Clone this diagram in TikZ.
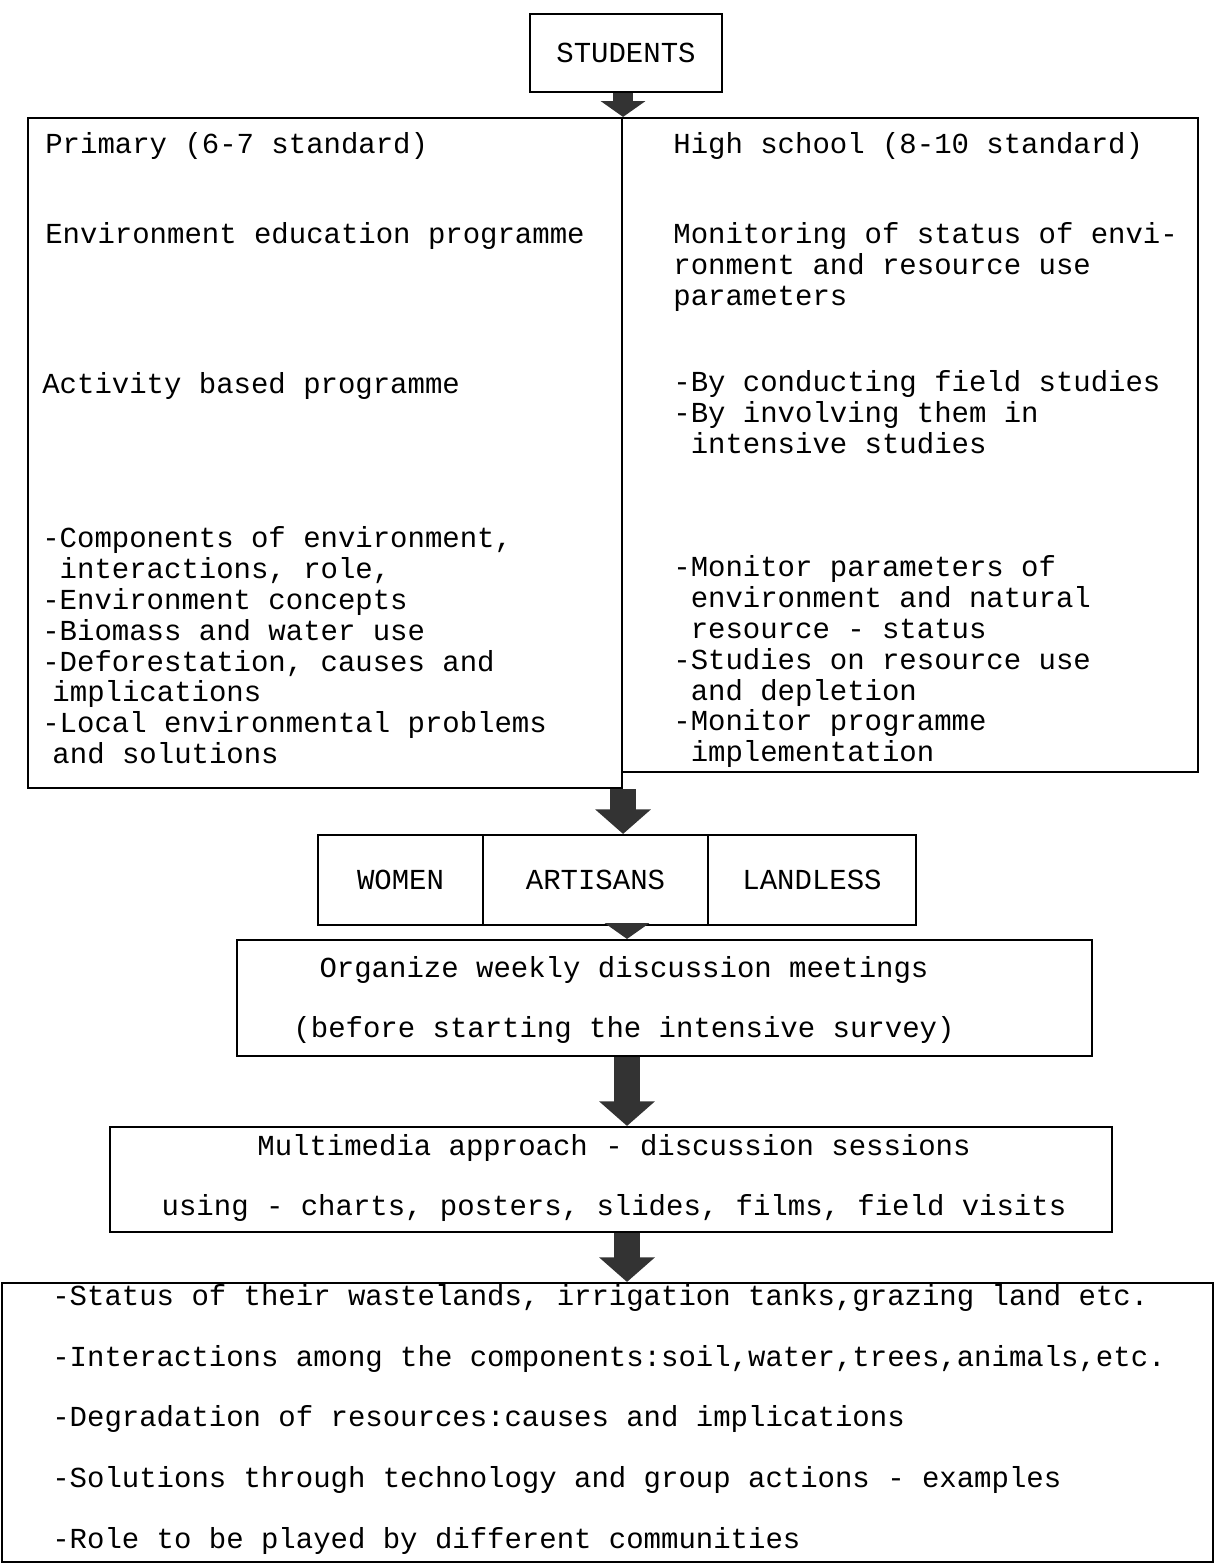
\documentclass[tikz,border=0pt]{standalone}
\usepackage{fontspec}
\setmonofont{Liberation Mono}
\usetikzlibrary{calc,fit,arrows.meta}

\begin{document}
\begin{tikzpicture}[x=0.02cm,y=-0.02cm,
  every node/.style={font=\ttfamily\fontsize{16.5}{17.6}\selectfont},
  object/.style={draw,line width=1.2pt,inner sep=0pt},
  txt/.style={anchor=north west,inner sep=0pt,align=left},
  arrow/.style={draw=black!80,line width=15pt,-{Triangle[width=31pt,length=14pt]}},
  small arrow/.style={draw=black!80,line width=11pt,-{Triangle[width=25pt,length=9pt]}}]
  \useasboundingbox (0,0) rectangle (1215,1567);
  \coordinate (spine) at (627,0);

  \node[object,fit={(530,14) (722,92)},label=center:STUDENTS] (students) {};

  \node[object,fit={(28,118) (622,788)}] (primary) {};
  \node[object,fit={(622,118) (1198,772)}] (high) {};

  % primary column
  \node[txt] (primary title) at (45,132) {Primary (6-7 standard)};
  \node[txt] (env edu) at (45,222) {Environment education programme};
  \node[txt] (activity) at (42,372) {Activity based programme};
  \node[txt] (primary list) at (42,526) {-Components of environment,\\
    \phantom{-}interactions, role,\\
    -Environment concepts\\
    -Biomass and water use\\
    -Deforestation, causes and\\
    \hspace*{0.35em}implications\\
    -Local environmental problems\\
    \hspace*{0.35em}and solutions};

  % high school column
  \node[txt] (high title) at (673,132) {High school (8-10 standard)};
  \node[txt] (monitoring) at (673,222) {Monitoring of status of envi-\\
    ronment and resource use\\
    parameters};
  \node[txt] (by) at (673,370) {-By conducting field studies\\
    -By involving them in\\
    \phantom{-}intensive studies};
  \node[txt] (high list) at (673,555) {-Monitor parameters of\\
    \phantom{-}environment and natural\\
    \phantom{-}resource - status\\
    -Studies on resource use\\
    \phantom{-}and depletion\\
    -Monitor programme\\
    \phantom{-}implementation};

  \node[object,fit={(318,835) (483,925)},label=center:WOMEN] (women) {};
  \node[object,fit={(483,835) (708,925)},label=center:ARTISANS] (artisans) {};
  \node[object,fit={(708,835) (916,925)},label=center:LANDLESS] (landless) {};

  \node[object,fit={(237,940) (1092,1056)}] (organize) {};
  \node[align=center] (organize text) at (624,1000) {Organize weekly discussion meetings\\[16.5pt]
    (before starting the intensive survey)};

  \node[object,fit={(110,1127) (1112,1232)}] (multimedia) {};
  \node[align=center] (multimedia text) at (614,1178) {Multimedia approach - discussion sessions\\[16.5pt]
    using - charts, posters, slides, films, field visits};

  \node[object,fit={(2,1283) (1213,1562)}] (issues) {};
  \node[txt,font=\ttfamily\fontsize{16.5}{34.6}\selectfont] (issues text) at (52,1284) {-Status of their wastelands, irrigation tanks,grazing land etc.\\
    -Interactions among the components:soil,water,trees,animals,etc.\\
    -Degradation of resources:causes and implications\\
    -Solutions through technology and group actions - examples\\
    -Role to be played by different communities};

  \draw[small arrow] (students.south -| primary.north east) -- (primary.north east);
  \draw[arrow] (primary.south east) -- (primary.south east |- artisans.north);
  \draw[small arrow] (artisans.south -| spine) -- (organize.north -| spine);
  \draw[arrow] (organize.south -| spine) -- (multimedia.north -| spine);
  \draw[arrow] (multimedia.south -| spine) -- (issues.north -| spine);
\end{tikzpicture}
\end{document}
